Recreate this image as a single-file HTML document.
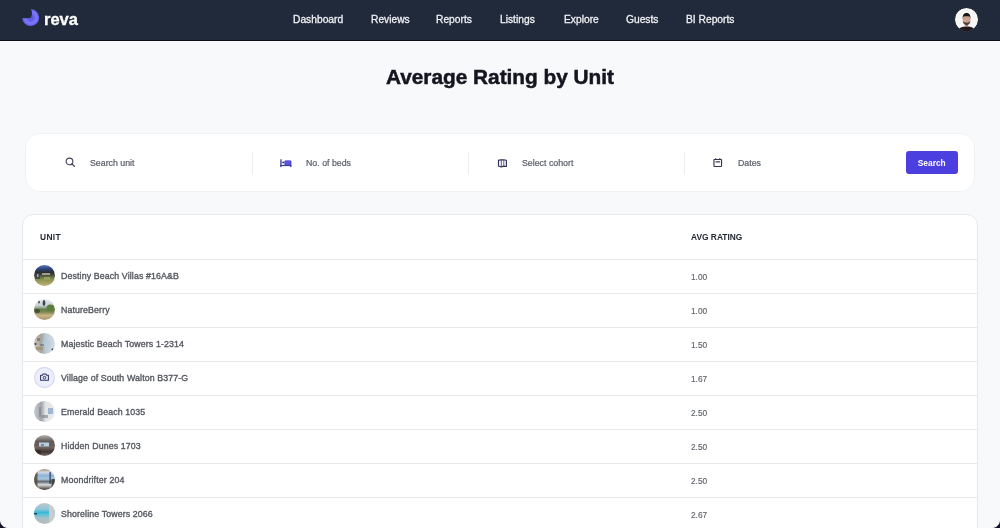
<!DOCTYPE html>
<html><head><meta charset="utf-8">
<style>
*{box-sizing:border-box;margin:0;padding:0}
html,body{width:1000px;height:528px;overflow:hidden}
body{background:#f8f9fb;font-family:"Liberation Sans",sans-serif;position:relative;color:#374151}
.t{position:absolute;line-height:1;white-space:nowrap;will-change:transform}
.nav{position:absolute;left:0;top:0;width:1000px;height:41px;background:#212a3b;border-bottom:1px solid #0b0e16}
.logo{position:absolute;left:21px;top:8px}
.nav .t.brand{left:44px;top:11px;color:#fff;font-weight:bold;font-size:16.5px;-webkit-text-stroke:0.3px #fff}
.nav .t{top:15.3px;color:#eef0f4;font-size:10.25px;-webkit-text-stroke:0.3px #eef0f4}
.avatar{position:absolute;left:953.8px;top:7px;width:25px;height:25px;border-radius:50%;background:#f6f6f7;overflow:hidden;border:1px solid #0f131c}
h1{will-change:transform;position:absolute;left:0;width:1000px;top:67.4px;line-height:1;text-align:center;font-size:20.8px;font-weight:bold;color:#14151f;-webkit-text-stroke:0.5px #14151f}
.search{position:absolute;left:26px;top:134px;width:947.5px;height:57px;background:#fff;border-radius:14px;box-shadow:0 0 0 1px #f1f2f5}
.ph{top:24.5px;font-size:8.8px;color:#5a5e69;-webkit-text-stroke:0.22px #5a5e69}
.dv{position:absolute;top:17.7px;width:1px;height:23px;background:#eceef1}
.btn{position:absolute;left:880px;top:17px;width:51.5px;height:23px;background:#4b3fdf;border-radius:3px}
.btn .t{left:0;width:51.5px;text-align:center;top:8px;color:#fff;font-size:8.4px;font-weight:bold}
.ic{position:absolute}
.table{position:absolute;left:22px;top:214px;width:956px;height:340px;background:#fff;border:1px solid #e6e8ec;border-radius:11px;overflow:hidden}
.th{top:18.3px;font-size:8.4px;font-weight:bold;color:#1f2430;letter-spacing:0px}
.row{position:absolute;left:0;width:955px;height:34px;border-top:1px solid #e8eaee}
.row .name{left:37.5px;top:11.8px;font-size:8.8px;letter-spacing:0.12px;color:#55585f;-webkit-text-stroke:0.35px #55585f}
.row .val{left:667.5px;top:12.9px;font-size:8.3px;color:#5a5d66;-webkit-text-stroke:0.12px #5a5d66}
.img{position:absolute;left:11px;top:4.8px;width:21px;height:21px;border-radius:50%;overflow:hidden}
</style></head><body>
<div class="nav">
  <svg class="logo" width="20" height="20" viewBox="0 0 20 20"><defs><radialGradient id="lg" cx="9.7" cy="9.6" r="8.5" gradientUnits="userSpaceOnUse"><stop offset="0.35" stop-color="#615ce6"/><stop offset="0.65" stop-color="#7e7af6"/><stop offset="1" stop-color="#625deb"/></radialGradient></defs><path d="M9.9 1.1 A8.5 8.5 0 1 1 1.2 9.9 Q6 10.4 9.8 9.8 Q10.9 9 11 5.5 Q11 3 9.9 1.1 Z" fill="url(#lg)"/></svg>
  <div class="t brand">reva</div>
  <div class="t" style="left:292.5px">Dashboard</div>
  <div class="t" style="left:370.5px">Reviews</div>
  <div class="t" style="left:435.5px">Reports</div>
  <div class="t" style="left:499.5px">Listings</div>
  <div class="t" style="left:563.5px">Explore</div>
  <div class="t" style="left:625.5px">Guests</div>
  <div class="t" style="left:685.5px">BI Reports</div>
  <div class="avatar">
    <svg width="23" height="23" viewBox="0 0 23 23" style="display:block">
      <path d="M2.5 23.5 C3.5 20 6.8 18.6 11.6 18.6 C16.4 18.6 19.7 20 20.7 23.5 Z" fill="#1e1a1d"/>
      <rect x="10.2" y="15.5" width="2.8" height="3.4" fill="#a27f6e"/>
      <ellipse cx="11.6" cy="11.6" rx="3.9" ry="5.1" fill="#c8a08b"/>
      <path d="M7.7 11.2 C7.4 6.4 9.2 5 11.6 5 C14 5 15.8 6.4 15.5 11.2 L14.9 8.7 C13 8.1 10.2 8.1 8.3 8.7 Z" fill="#1a1719"/>
      <path d="M7.8 13 C8.3 16.4 10.2 17 11.6 17 C13 17 14.9 16.4 15.4 13 C14 15.2 9.2 15.2 7.8 13Z" fill="#4e3d37"/>
    </svg>
  </div>
</div>
<h1>Average Rating by Unit</h1>
<div class="search">
  <svg class="ic" style="left:38.5px;top:23.3px" width="11" height="11" viewBox="0 0 11 11"><circle cx="4.5" cy="4.4" r="3.35" fill="none" stroke="#44445e" stroke-width="1.15"/><path d="M6.9 6.9 L9.3 9.2" stroke="#44445e" stroke-width="1.3" stroke-linecap="round"/></svg>
  <div class="t ph" style="left:63.5px">Search unit</div>
  <div class="dv" style="left:226px"></div>
  <svg class="ic" style="left:254px;top:24.9px" width="12" height="9" viewBox="0 0 12 9"><rect x="0.3" y="0.3" width="1.3" height="7.8" fill="#3d3a8c"/><rect x="0.3" y="5.9" width="11.1" height="1.2" fill="#3d3a9a"/><rect x="10.2" y="5.9" width="1.2" height="2.2" fill="#3d3a9a"/><circle cx="3.1" cy="3.4" r="0.95" fill="#2e2a80"/><rect x="4.7" y="1.7" width="6.4" height="4.4" rx="0.7" fill="#5a54e4" stroke="#4540b8" stroke-width="0.6"/></svg>
  <div class="t ph" style="left:280px">No. of beds</div>
  <div class="dv" style="left:442px"></div>
  <svg class="ic" style="left:471px;top:24.5px" width="11" height="9" viewBox="0 0 11 9"><path d="M1.5 1.6 Q1.5 1.2 1.9 1.1 L4.3 0.9 L6.8 0.8 L9 1.3 Q9.4 1.4 9.4 1.8 V7.2 Q9.4 7.6 9 7.5 L6.8 7.1 L4.3 7.9 L1.9 7.3 Q1.5 7.2 1.5 6.8 Z" fill="none" stroke="#30305a" stroke-width="1.15" stroke-linejoin="round"/><path d="M4.3 1 V7.8 M6.8 0.9 V7.1" stroke="#4a4a80" stroke-width="0.9"/></svg>
  <div class="t ph" style="left:496px">Select cohort</div>
  <div class="dv" style="left:658px"></div>
  <svg class="ic" style="left:687px;top:24px" width="10" height="9" viewBox="0 0 10 9"><rect x="0.95" y="1.45" width="7.6" height="7" rx="0.6" fill="none" stroke="#34344f" stroke-width="1.15"/><path d="M2.7 0.2 V1.8 M6.8 0.2 V1.8" stroke="#34344f" stroke-width="1.1"/><rect x="2.5" y="3.1" width="4.6" height="1.5" fill="#5e5e7c"/></svg>
  <div class="t ph" style="left:712px">Dates</div>
  <div class="btn"><div class="t">Search</div></div>
</div>
<div class="table">
  <div class="t th" style="left:16.5px;letter-spacing:0.35px">UNIT</div>
  <div class="t th" style="left:667.5px">AVG RATING</div>
  <div class="row" style="top:44px"><div class="img"><svg width="21" height="21" viewBox="0 0 21 21"><defs><linearGradient id="g1" x1="0" y1="0" x2="0" y2="1"><stop offset="0" stop-color="#5a78c0"/><stop offset="0.2" stop-color="#2e4275"/><stop offset="0.36" stop-color="#2a2f30"/><stop offset="0.5" stop-color="#4c5540"/><stop offset="0.68" stop-color="#88914c"/><stop offset="1" stop-color="#c2b07a"/></linearGradient></defs><rect width="21" height="21" fill="url(#g1)"/><rect x="8" y="8" width="8" height="2" fill="#bdb5a8" opacity=".8"/><rect x="1" y="8" width="5" height="6" fill="#3a3f4a" opacity=".8"/><rect x="3" y="9" width="1.5" height="3" fill="#c8ccd8" opacity=".7"/><rect x="10" y="12" width="6" height="2.5" fill="#aab870" opacity=".6"/></svg></div><div class="t name">Destiny Beach Villas #16A&amp;B</div><div class="t val">1.00</div></div>
  <div class="row" style="top:78px"><div class="img"><svg width="21" height="21" viewBox="0 0 21 21"><defs><linearGradient id="g2" x1="0" y1="0" x2="0" y2="1"><stop offset="0" stop-color="#e8edf3"/><stop offset="0.32" stop-color="#c7d0d4"/><stop offset="0.5" stop-color="#62804a"/><stop offset="0.62" stop-color="#7e8652"/><stop offset="0.78" stop-color="#cbb485"/><stop offset="1" stop-color="#a89372"/></linearGradient></defs><rect width="21" height="21" fill="url(#g2)"/><ellipse cx="10" cy="4" rx="1.4" ry="3" fill="#3c4452"/><ellipse cx="5" cy="3" rx="1" ry="1.5" fill="#555c66"/><ellipse cx="16.5" cy="9" rx="4" ry="3.5" fill="#5c7d3c"/><ellipse cx="3" cy="12" rx="3" ry="2" fill="#2f3a26" opacity=".7"/></svg></div><div class="t name">NatureBerry</div><div class="t val">1.00</div></div>
  <div class="row" style="top:112px"><div class="img"><svg width="21" height="21" viewBox="0 0 21 21"><defs><linearGradient id="g3" x1="0" y1="0" x2="1" y2="0"><stop offset="0" stop-color="#c9c4bc"/><stop offset="0.35" stop-color="#a8a39a"/><stop offset="0.55" stop-color="#b9cbd8"/><stop offset="1" stop-color="#d8dde2"/></linearGradient></defs><rect width="21" height="21" fill="url(#g3)"/><ellipse cx="12.5" cy="10" rx="4.5" ry="3" fill="#b4cde0" opacity=".6"/><rect x="6" y="11" width="4" height="2" fill="#4a5060" opacity=".4"/><rect x="2" y="14" width="7" height="3" fill="#9a8b74" opacity=".7"/><rect x="3" y="5" width="3" height="3" fill="#6b6660" opacity=".6"/><circle cx="18.5" cy="16.5" r="1" fill="#2c2c30"/><circle cx="1.5" cy="11" r="1" fill="#3a3a3e"/></svg></div><div class="t name">Majestic Beach Towers 1-2314</div><div class="t val">1.50</div></div>
  <div class="row" style="top:146px"><div class="img" style="background:#eceefc;box-shadow:inset 0 0 0 1px #d3d7f1"><svg style="position:absolute;left:5.5px;top:6.5px" width="9" height="8" viewBox="0 0 9 8"><path d="M0.6 2.2 H2.4 L3.2 0.9 H5.8 L6.6 2.2 H8.4 V7.3 H0.6 Z" fill="none" stroke="#2f3163" stroke-width="1.05" stroke-linejoin="round"/><circle cx="4.5" cy="4.6" r="1.3" fill="none" stroke="#2f3163" stroke-width="1"/></svg></div><div class="t name">Village of South Walton B377-G</div><div class="t val">1.67</div></div>
  <div class="row" style="top:180px"><div class="img"><svg width="21" height="21" viewBox="0 0 21 21"><defs><linearGradient id="g5" x1="0" y1="0" x2="1" y2="0"><stop offset="0" stop-color="#c8cbd0"/><stop offset="0.35" stop-color="#a0a4aa"/><stop offset="0.55" stop-color="#e2e4e6"/><stop offset="1" stop-color="#e9ecef"/></linearGradient></defs><rect width="21" height="21" fill="url(#g5)"/><rect x="14" y="7" width="5" height="6" fill="#8fa8cc" opacity=".8"/><rect x="5" y="6" width="2" height="10" fill="#7d8088" opacity=".6"/><rect x="8" y="14" width="6" height="3" fill="#6a7078" opacity=".5"/></svg></div><div class="t name">Emerald Beach 1035</div><div class="t val">2.50</div></div>
  <div class="row" style="top:214px"><div class="img"><svg width="21" height="21" viewBox="0 0 21 21"><defs><linearGradient id="g6" x1="0" y1="0" x2="0" y2="1"><stop offset="0" stop-color="#b9b4b0"/><stop offset="0.3" stop-color="#605a58"/><stop offset="0.6" stop-color="#6e625c"/><stop offset="0.8" stop-color="#3e3633"/><stop offset="1" stop-color="#7a716c"/></linearGradient></defs><rect width="21" height="21" fill="url(#g6)"/><rect x="5" y="7.5" width="10" height="4" fill="#b8cce2"/><rect x="7" y="9" width="3" height="2" fill="#5a6c88" opacity=".7"/><rect x="1" y="15" width="6" height="4" fill="#2a2220" opacity=".6"/></svg></div><div class="t name">Hidden Dunes 1703</div><div class="t val">2.50</div></div>
  <div class="row" style="top:248px"><div class="img"><svg width="21" height="21" viewBox="0 0 21 21"><defs><linearGradient id="g7" x1="0" y1="0" x2="0" y2="1"><stop offset="0" stop-color="#9b8a78"/><stop offset="0.15" stop-color="#d6dbe0"/><stop offset="0.3" stop-color="#8fb2d6"/><stop offset="0.48" stop-color="#a9c6de"/><stop offset="0.6" stop-color="#5e6a70"/><stop offset="0.75" stop-color="#d9dcdc"/><stop offset="1" stop-color="#3a2f28"/></linearGradient></defs><rect width="21" height="21" fill="url(#g7)"/><rect x="0" y="0" width="3.5" height="21" fill="#5b4a3c" opacity=".85"/><rect x="15.5" y="3" width="1.2" height="12" fill="#2c3e5a"/><rect x="17.5" y="10" width="3.5" height="10" fill="#3b3430" opacity=".8"/></svg></div><div class="t name">Moondrifter 204</div><div class="t val">2.50</div></div>
  <div class="row" style="top:282px"><div class="img"><svg width="21" height="21" viewBox="0 0 21 21"><defs><linearGradient id="g8" x1="0" y1="0" x2="0" y2="1"><stop offset="0" stop-color="#c2c6ca"/><stop offset="0.3" stop-color="#8ec6da"/><stop offset="0.45" stop-color="#3ab8d8"/><stop offset="0.55" stop-color="#5ac2d8"/><stop offset="0.7" stop-color="#a3c0c8"/><stop offset="1" stop-color="#b8bcbf"/></linearGradient></defs><rect width="21" height="21" fill="url(#g8)"/><path d="M15 3 L21 0 V21 L15 19 Z" fill="#c8cccf"/><rect x="0" y="10" width="3" height="1.6" fill="#1f4a58"/></svg></div><div class="t name">Shoreline Towers 2066</div><div class="t val">2.67</div></div>
</div>
<div style="position:absolute;left:0;top:520px;width:8px;height:8px;background:radial-gradient(circle at 8px 0,transparent 7.5px,#15122a 8.5px)"></div><div style="position:absolute;left:992px;top:520px;width:8px;height:8px;background:radial-gradient(circle at 0 0,transparent 7.5px,#15122a 8.5px)"></div>
</body></html>
